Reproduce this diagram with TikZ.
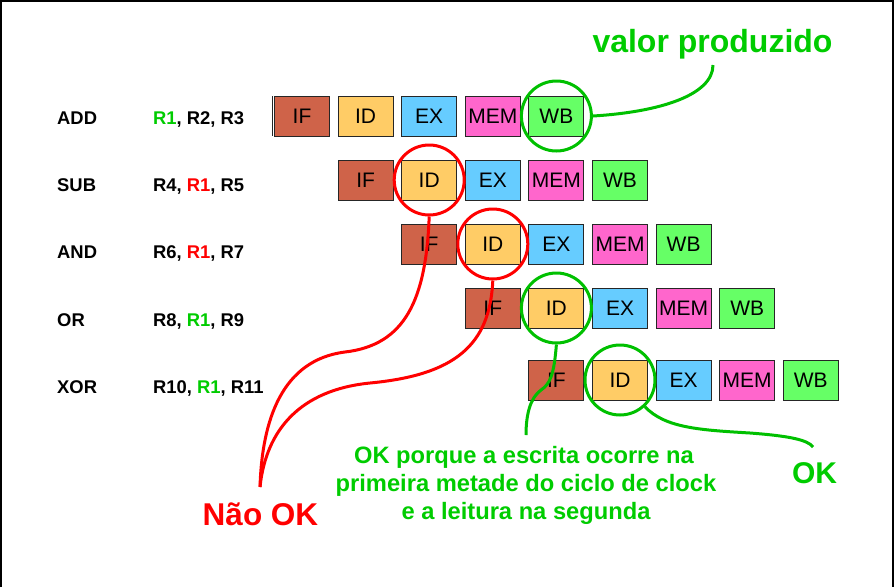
\documentclass[tikz,border=0pt]{standalone}
\usepackage{fontspec}
\setmainfont{Liberation Sans}
\definecolor{ifc}{RGB}{207,99,73}
\definecolor{idc}{RGB}{255,204,102}
\definecolor{exc}{RGB}{102,204,255}
\definecolor{memc}{RGB}{255,102,204}
\definecolor{wbc}{RGB}{102,255,102}
\definecolor{okgreen}{RGB}{0,204,0}
\definecolor{circgreen}{RGB}{0,192,0}
\definecolor{nored}{RGB}{255,0,0}
\tikzset{
  stagebox/.style={draw=black!85, line width=0.9pt, minimum width=55pt, minimum height=40pt, inner sep=0pt, font=\fontsize{21}{25}\selectfont},
  instr/.style={anchor=base west, inner sep=0pt, font=\bfseries\fontsize{18.4}{22}\selectfont},
  ring/.style={circle, line width=3pt, minimum size=70pt, inner sep=0pt},
  gline/.style={draw=circgreen, line width=3pt},
  rline/.style={draw=nored, line width=3pt},
  gtext/.style={anchor=base, inner sep=0pt, text=okgreen},
  gpara/.style={gtext, font=\bfseries\fontsize{23.7}{28}\selectfont}
}
\begin{document}
\begin{tikzpicture}[x=1pt,y=-1pt]
\useasboundingbox (0,0) rectangle (894,587);
\draw[line width=1.5pt] (1,587) -- (1,0.8) -- (893,0.8) -- (893,587);

% pipeline boxes
\foreach \r/\y in {1/116,2/180,3/244,4/308,5/380} {
  \foreach \s/\lbl/\col [count=\j from 0] in {if/IF/ifc,id/ID/idc,ex/EX/exc,mem/MEM/memc,wb/WB/wbc} {
    \pgfmathsetmacro\xx{302+63.6*(\r-1+\j)}
    \node[stagebox, fill=\col] (r\r\s) at (\xx,\y) {\lbl};
  }
}
\draw[black!85, line width=0.9pt] (272.5,96) -- (272.5,136);

% instructions
\node[instr] (i1) at (57,124.5) {ADD};
\node[instr] (o1) at (153,124.5) {\textcolor{okgreen}{R1}, R2, R3};
\node[instr] (i2) at (57,191.5) {SUB};
\node[instr] (o2) at (153,191.5) {R4, \textcolor{nored}{R1}, R5};
\node[instr] (i3) at (57,258.5) {AND};
\node[instr] (o3) at (153,258.5) {R6, \textcolor{nored}{R1}, R7};
\node[instr] (i4) at (57,326) {OR};
\node[instr] (o4) at (153,326) {R8, \textcolor{okgreen}{R1}, R9};
\node[instr] (i5) at (57,393.5) {XOR};
\node[instr] (o5) at (153,393.5) {R10, \textcolor{okgreen}{R1}, R11};

% circles
\node[ring, draw=circgreen] (c1) at (r1wb) {};
\node[ring, draw=nored] (c2) at (r2id) {};
\node[ring, draw=nored] (c3) at (r3id) {};
\node[ring, draw=circgreen] (c4) at (r4id) {};
\node[ring, draw=circgreen] (c5) at (r5id) {};

% labels
\node[gtext, font=\bfseries\fontsize{32}{36}\selectfont] (vp) at (712.5,52) {valor produzido};
\node[anchor=base, inner sep=0pt, text=nored, font=\bfseries\fontsize{31.5}{36}\selectfont] (nok) at (260.5,525) {Não OK};
\node[gtext, font=\bfseries\fontsize{30}{36}\selectfont] (okr) at (814.5,483) {OK};
\node[gpara] (p1) at (524,463) {OK porque a escrita ocorre na};
\node[gpara] (p2) at (526,491.5) {primeira metade do ciclo de clock};
\node[gpara] (p3) at (526,519) {e a leitura na segunda};

% connector ends
\coordinate (vpe) at (713,65);
\coordinate (noke) at (260,487);
\coordinate (p1e) at (526,435);
\coordinate (okre) at (813,447);

% connectors
\draw[gline] (c1.east) .. controls (660,112) and (713,95) .. (vpe);
\draw[rline] (c2.south) .. controls (426,300) and (405,345) .. (345,352) .. controls (282,360) and (262,420) .. (noke);
\draw[rline] (c3.south) .. controls (490,345) and (455,375) .. (370,383) .. controls (300,390) and (266,430) .. (noke);
\draw[gline] (c4.south) .. controls (554,375) and (550,384) .. (541,390) .. controls (530,398) and (526,415) .. (p1e);
\draw[gline] (c5.-47) .. controls (665,428) and (700,430) .. (750,433) .. controls (790,436) and (808,440) .. (okre);
\end{tikzpicture}
\end{document}
